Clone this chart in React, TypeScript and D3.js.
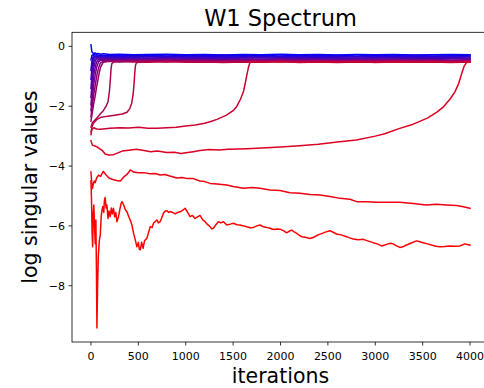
import React from "react";
import * as d3 from "d3";

const TITLE = "W1 Spectrum";
const X_LABEL = "iterations";
const Y_LABEL = "log singular values";
const X_TICKS = [0, 500, 1000, 1500, 2000, 2500, 3000, 3500, 4000];
const Y_TICKS = [0, -2, -4, -6, -8];

// shared iteration grid for the lines that join the top cluster early
const CLUSTER_ITERS = [0, 10, 20, 30, 45, 60, 80, 100, 130, 200, 300, 450, 600, 800, 1000, 1200, 1400, 1600, 1800, 2000, 2200, 2400, 2600, 2800, 3000, 3200, 3400, 3600, 3800, 4000];

const SV0 = [0.05, -0.18, -0.22, -0.24, -0.22, -0.25, -0.24, -0.26, -0.25, -0.27, -0.26, -0.28, -0.27, -0.26, -0.28, -0.27, -0.29, -0.27, -0.28, -0.26, -0.28, -0.27, -0.29, -0.27, -0.28, -0.27, -0.29, -0.28, -0.27, -0.28];
const SV1 = [-0.45, -0.3, -0.28, -0.27, -0.29, -0.28, -0.3, -0.29, -0.31, -0.3, -0.29, -0.31, -0.3, -0.32, -0.3, -0.31, -0.29, -0.31, -0.3, -0.32, -0.3, -0.31, -0.3, -0.32, -0.3, -0.31, -0.3, -0.32, -0.31, -0.3];
const SV2 = [-0.8, -0.5, -0.36, -0.31, -0.33, -0.32, -0.34, -0.33, -0.35, -0.33, -0.34, -0.32, -0.35, -0.33, -0.34, -0.32, -0.34, -0.33, -0.35, -0.33, -0.34, -0.32, -0.34, -0.35, -0.33, -0.34, -0.32, -0.34, -0.33, -0.34];
const SV3 = [-1.1, -0.75, -0.5, -0.38, -0.35, -0.36, -0.35, -0.37, -0.36, -0.38, -0.36, -0.37, -0.35, -0.37, -0.36, -0.38, -0.36, -0.37, -0.35, -0.37, -0.36, -0.38, -0.36, -0.35, -0.37, -0.36, -0.38, -0.36, -0.37, -0.36];
const SV4 = [-1.4, -1.0, -0.7, -0.5, -0.4, -0.38, -0.39, -0.38, -0.4, -0.39, -0.41, -0.39, -0.4, -0.38, -0.4, -0.39, -0.41, -0.39, -0.38, -0.4, -0.39, -0.41, -0.39, -0.4, -0.38, -0.4, -0.39, -0.41, -0.39, -0.4];
const SV5 = [-1.7, -1.3, -0.95, -0.7, -0.5, -0.42, -0.41, -0.42, -0.41, -0.43, -0.42, -0.44, -0.42, -0.41, -0.43, -0.42, -0.44, -0.42, -0.43, -0.41, -0.43, -0.42, -0.44, -0.42, -0.41, -0.43, -0.42, -0.43, -0.42, -0.41];
const SV6 = [-1.95, -1.6, -1.25, -0.95, -0.7, -0.52, -0.45, -0.44, -0.45, -0.44, -0.46, -0.44, -0.45, -0.43, -0.45, -0.44, -0.46, -0.44, -0.45, -0.43, -0.45, -0.44, -0.46, -0.44, -0.45, -0.43, -0.45, -0.44, -0.46, -0.44];
const SV7 = [-2.15, -1.85, -1.55, -1.25, -0.95, -0.7, -0.52, -0.47, -0.46, -0.47, -0.48, -0.46, -0.47, -0.45, -0.47, -0.46, -0.48, -0.46, -0.47, -0.45, -0.47, -0.46, -0.48, -0.46, -0.47, -0.45, -0.47, -0.46, -0.48, -0.46];
const SV8 = [-2.35, -2.1, -1.85, -1.6, -1.3, -1.0, -0.72, -0.55, -0.5, -0.49, -0.5, -0.48, -0.49, -0.47, -0.49, -0.48, -0.5, -0.48, -0.49, -0.47, -0.49, -0.48, -0.5, -0.48, -0.49, -0.47, -0.49, -0.48, -0.5, -0.48];
const SV9 = [-2.5, -2.3, -2.1, -1.9, -1.65, -1.35, -1.0, -0.7, -0.53, -0.5, -0.52, -0.5, -0.51, -0.49, -0.51, -0.5, -0.52, -0.5, -0.51, -0.49, -0.51, -0.5, -0.52, -0.5, -0.51, -0.49, -0.51, -0.5, -0.52, -0.5];

// slower singular values: [iteration, log value]
const SV10: [number, number][] = [[0, -2.7], [15, -2.55], [30, -2.5], [60, -2.4], [100, -2.25], [130, -2.15], [160, -2.0], [180, -1.85], [195, -1.5], [205, -1.1], [212, -0.75], [220, -0.58], [240, -0.52], [300, -0.5], [450, -0.52], [600, -0.5], [800, -0.52], [1000, -0.5], [1200, -0.52], [1400, -0.5], [1600, -0.51], [1800, -0.5], [2000, -0.52], [2200, -0.5], [2400, -0.51], [2600, -0.5], [2800, -0.52], [3000, -0.5], [3200, -0.51], [3400, -0.5], [3600, -0.52], [3800, -0.5], [4000, -0.51]];
const SV11: [number, number][] = [[0, -2.85], [15, -2.65], [30, -2.55], [60, -2.45], [100, -2.38], [160, -2.34], [250, -2.3], [330, -2.26], [380, -2.2], [410, -2.08], [430, -1.9], [445, -1.6], [455, -1.25], [462, -0.9], [470, -0.63], [480, -0.55], [520, -0.52], [600, -0.53], [800, -0.51], [1000, -0.53], [1200, -0.52], [1400, -0.54], [1600, -0.52], [1800, -0.53], [2000, -0.51], [2200, -0.53], [2400, -0.52], [2600, -0.54], [2800, -0.52], [3000, -0.53], [3200, -0.51], [3400, -0.53], [3600, -0.52], [3800, -0.54], [4000, -0.52]];
const SV12: [number, number][] = [[0, -2.95], [10, -2.78], [30, -2.72], [60, -2.76], [100, -2.77], [200, -2.74], [300, -2.72], [400, -2.73], [500, -2.7], [600, -2.74], [700, -2.74], [800, -2.72], [900, -2.7], [1000, -2.66], [1100, -2.63], [1200, -2.57], [1257, -2.52], [1330, -2.44], [1430, -2.3], [1500, -2.15], [1540, -2.0], [1580, -1.75], [1610, -1.5], [1630, -1.2], [1645, -0.95], [1662, -0.7], [1678, -0.53], [1700, -0.5], [1800, -0.53], [2000, -0.51], [2200, -0.54], [2400, -0.52], [2600, -0.53], [2800, -0.51], [3000, -0.54], [3200, -0.52], [3400, -0.53], [3600, -0.51], [3800, -0.53], [4000, -0.52]];
const SV13: [number, number][] = [[0, -3.15], [15, -3.3], [40, -3.33], [65, -3.36], [90, -3.42], [120, -3.48], [150, -3.6], [190, -3.63], [240, -3.62], [290, -3.55], [330, -3.5], [400, -3.47], [480, -3.44], [560, -3.48], [630, -3.52], [700, -3.5], [800, -3.55], [880, -3.54], [950, -3.58], [1020, -3.55], [1080, -3.52], [1150, -3.48], [1250, -3.45], [1350, -3.46], [1450, -3.44], [1550, -3.43], [1650, -3.42], [1800, -3.4], [2000, -3.36], [2200, -3.32], [2400, -3.27], [2600, -3.2], [2800, -3.13], [3000, -3.0], [3100, -2.92], [3250, -2.75], [3400, -2.6], [3550, -2.4], [3650, -2.2], [3720, -2.02], [3790, -1.76], [3840, -1.52], [3875, -1.28], [3905, -0.98], [3935, -0.68], [3960, -0.55], [3985, -0.5], [4000, -0.52]];
const SV14: [number, number][] = [[0, -4.2], [8, -4.55], [15, -4.75], [25, -4.6], [35, -4.5], [45, -4.55], [60, -4.4], [80, -4.3], [100, -4.35], [130, -4.18], [160, -4.3], [190, -4.4], [230, -4.45], [270, -4.48], [310, -4.5], [350, -4.35], [380, -4.28], [415, -4.13], [450, -4.2], [500, -4.22], [560, -4.22], [620, -4.26], [680, -4.25], [730, -4.3], [780, -4.28], [850, -4.35], [906, -4.4], [960, -4.38], [1020, -4.42], [1080, -4.42], [1150, -4.5], [1200, -4.52], [1257, -4.58], [1330, -4.6], [1433, -4.63], [1500, -4.68], [1608, -4.74], [1700, -4.72], [1784, -4.74], [1890, -4.8], [1995, -4.82], [2100, -4.89], [2205, -4.91], [2311, -4.95], [2416, -4.97], [2522, -5.02], [2627, -5.08], [2733, -5.11], [2803, -5.19], [2908, -5.19], [3014, -5.21], [3119, -5.21], [3259, -5.21], [3400, -5.25], [3540, -5.3], [3646, -5.28], [3751, -5.3], [3857, -5.32], [3930, -5.36], [4000, -5.41]];
const SV15: [number, number][] = [[0, -4.5], [5, -5.0], [12, -6.2], [18, -6.7], [24, -5.6], [30, -5.3], [38, -6.0], [45, -6.6], [52, -5.8], [58, -7.5], [63, -9.41], [70, -8.0], [78, -7.0], [88, -6.5], [98, -6.3], [108, -5.7], [115, -5.5], [125, -5.35], [135, -5.55], [142, -5.15], [150, -5.05], [160, -5.4], [168, -5.3], [180, -5.75], [190, -5.5], [203, -5.69], [215, -5.4], [225, -5.6], [238, -5.41], [250, -5.7], [262, -5.55], [274, -5.86], [290, -5.7], [305, -5.45], [318, -5.25], [327, -5.19], [345, -5.3], [362, -5.45], [380, -5.53], [400, -5.7], [420, -5.85], [432, -5.97], [450, -6.25], [470, -6.5], [485, -6.7], [500, -6.55], [510, -6.78], [520, -6.8], [535, -6.55], [550, -6.75], [565, -6.5], [590, -6.41], [610, -6.2], [625, -6.03], [645, -6.05], [660, -5.91], [680, -5.85], [695, -5.8], [712, -5.9], [730, -5.86], [750, -5.7], [765, -5.58], [785, -5.5], [800, -5.49], [820, -5.55], [836, -5.52], [860, -5.55], [888, -5.6], [915, -5.55], [941, -5.53], [970, -5.47], [994, -5.41], [1020, -5.55], [1046, -5.69], [1070, -5.65], [1099, -5.75], [1125, -5.7], [1150, -5.65], [1180, -5.8], [1204, -5.86], [1230, -5.95], [1257, -6.03], [1275, -6.1], [1292, -6.08], [1320, -5.95], [1345, -5.86], [1370, -5.9], [1398, -5.86], [1433, -5.97], [1470, -5.94], [1503, -5.91], [1540, -5.96], [1573, -5.97], [1610, -6.0], [1643, -6.03], [1680, -6.06], [1714, -6.05], [1750, -6.0], [1784, -5.97], [1820, -6.03], [1854, -6.05], [1890, -6.08], [1924, -6.12], [1960, -6.1], [1995, -6.11], [2030, -6.16], [2065, -6.23], [2090, -6.18], [2118, -6.14], [2145, -6.2], [2171, -6.25], [2200, -6.32], [2223, -6.36], [2260, -6.38], [2311, -6.42], [2350, -6.38], [2398, -6.3], [2440, -6.25], [2480, -6.2], [2522, -6.16], [2560, -6.22], [2592, -6.27], [2640, -6.3], [2697, -6.36], [2730, -6.4], [2767, -6.44], [2820, -6.46], [2873, -6.45], [2920, -6.5], [2978, -6.56], [3020, -6.6], [3066, -6.67], [3100, -6.64], [3136, -6.6], [3160, -6.58], [3188, -6.6], [3220, -6.66], [3259, -6.72], [3290, -6.7], [3330, -6.64], [3380, -6.57], [3435, -6.5], [3470, -6.53], [3505, -6.56], [3550, -6.6], [3593, -6.64], [3640, -6.68], [3681, -6.7], [3730, -6.69], [3786, -6.67], [3840, -6.68], [3891, -6.67], [3944, -6.6], [3970, -6.62], [4000, -6.64]];

const CLUSTER = [SV0, SV1, SV2, SV3, SV4, SV5, SV6, SV7, SV8, SV9];
const SLOW = [SV10, SV11, SV12, SV13, SV14, SV15];

const W = 484;
const H = 388;
const AX = { left: 72, right: 489, top: 32.3, bottom: 342 };
const FONT = "'DejaVu Sans', sans-serif";

export default function App() {
  const x = d3.scaleLinear().domain([-200, 4199.95]).range([AX.left, AX.right]);
  const y = d3.scaleLinear().domain([-9.88, 0.47]).range([AX.bottom, AX.top]);

  const series: [number, number][][] = [
    ...CLUSTER.map((vals) => vals.map((v, i) => [CLUSTER_ITERS[i], v] as [number, number])),
    ...SLOW,
  ];
  const n = series.length;
  const color = d3.interpolateRgb("#0000ff", "#ff0000");
  const line = d3
    .line<[number, number]>()
    .x((d) => x(d[0]))
    .y((d) => y(d[1]));

  const fmt = (v: number) => (v < 0 ? "\u2212" + Math.abs(v) : String(v));

  return (
    <svg
      width={W}
      height={H}
      style={{ position: "absolute", left: 0, top: 0, background: "#fff" }}
      fontFamily={FONT}
    >
      <rect x={0} y={0} width={W} height={H} fill="#fff" />
      <defs>
        <clipPath id="plotclip">
          <rect x={AX.left} y={AX.top} width={AX.right - AX.left} height={AX.bottom - AX.top} />
        </clipPath>
      </defs>
      <g clipPath="url(#plotclip)">
        {series.map((s, i) => (
          <path
            key={i}
            d={line(s) || ""}
            fill="none"
            stroke={color(i / (n - 1))}
            strokeWidth={1.5}
            strokeLinejoin="round"
            strokeLinecap="square"
          />
        ))}
      </g>
      {/* spines */}
      <rect
        x={AX.left}
        y={AX.top}
        width={AX.right - AX.left}
        height={AX.bottom - AX.top}
        fill="none"
        stroke="#000"
        strokeWidth={0.8}
      />
      {/* x ticks */}
      {X_TICKS.map((t) => (
        <g key={"x" + t}>
          <line x1={x(t)} x2={x(t)} y1={AX.bottom} y2={AX.bottom + 3.5} stroke="#000" strokeWidth={0.8} />
          <text x={x(t)} y={AX.bottom + 18} fontSize={11} textAnchor="middle" fill="#000">
            {fmt(t)}
          </text>
        </g>
      ))}
      {/* y ticks */}
      {Y_TICKS.map((t) => (
        <g key={"y" + t}>
          <line x1={AX.left - 3.5} x2={AX.left} y1={y(t)} y2={y(t)} stroke="#000" strokeWidth={0.8} />
          <text x={AX.left - 7} y={y(t)} dy="0.36em" fontSize={11} textAnchor="end" fill="#000">
            {fmt(t)}
          </text>
        </g>
      ))}
      <text x={(AX.left + AX.right) / 2} y={26} fontSize={22.5} textAnchor="middle" fill="#000">
        {TITLE}
      </text>
      <text x={(AX.left + AX.right) / 2} y={383} fontSize={20.5} textAnchor="middle" fill="#000">
        {X_LABEL}
      </text>
      <text
        transform={`translate(37,${(AX.top + AX.bottom) / 2}) rotate(-90)`}
        fontSize={20.5}
        textAnchor="middle"
        fill="#000"
      >
        {Y_LABEL}
      </text>
    </svg>
  );
}
